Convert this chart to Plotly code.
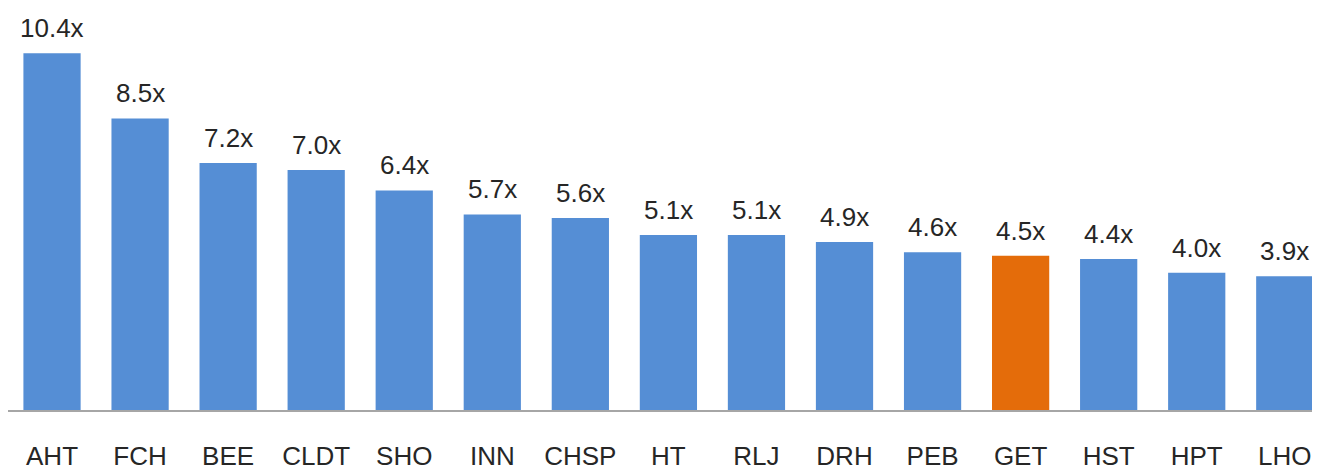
import plotly.graph_objects as go

tickers = ["AHT", "FCH", "BEE", "CLDT", "SHO", "INN", "CHSP", "HT", "RLJ",
           "DRH", "PEB", "GET", "HST", "HPT", "LHO"]
multiples = [10.4, 8.5, 7.2, 7.0, 6.4, 5.7, 5.6, 5.1, 5.1, 4.9, 4.6, 4.5, 4.4, 4.0, 3.9]
highlight = "GET"

blue = "#558ED5"
orange = "#E46C0A"
colors = [orange if t == highlight else blue for t in tickers]
labels = [f"{v:.1f}x" for v in multiples]

fig = go.Figure()
fig.add_trace(go.Bar(x=tickers, y=multiples, marker=dict(color=colors, line_width=0),
                     hoverinfo="skip"))

# value labels above bars
for t, v, lab in zip(tickers, multiples, labels):
    fig.add_annotation(x=t, y=v, text=lab, showarrow=False, yanchor="bottom",
                       yshift=8, font=dict(size=26, color="#262626"))

# page body has an 8px margin, so the figure is sized to fill the rest
fig.update_layout(
    width=1312, height=463,
    margin=dict(l=0, r=0, t=0, b=61),
    paper_bgcolor="white", plot_bgcolor="white",
    bargap=0.35,
    showlegend=False,
    font=dict(family="Liberation Sans, Arial, sans-serif", size=26, color="#262626"),
    xaxis=dict(range=[-0.5, 14.4], showline=True, linecolor="#A6A6A6", linewidth=2,
               showgrid=False, zeroline=False, ticks="", ticklabelstandoff=22,
               tickfont=dict(size=26, color="#262626")),
    yaxis=dict(range=[0, 11.72], visible=False, showgrid=False, zeroline=False),
)

fig.write_html("out.html")
